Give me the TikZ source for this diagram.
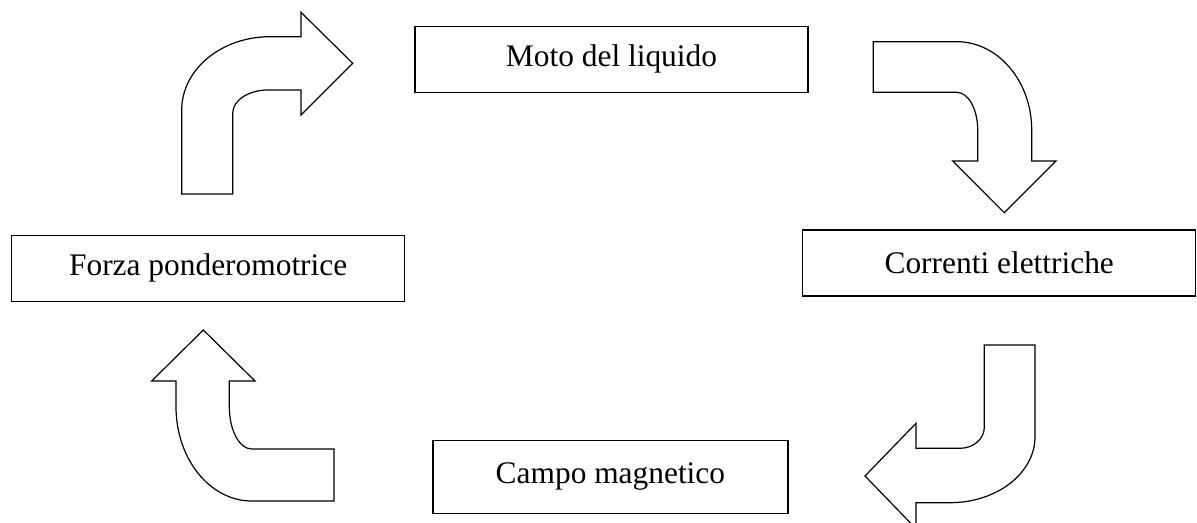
\documentclass[tikz,border=0pt]{standalone}
\usepackage{fontspec}
\setmainfont{Liberation Serif}
\usepackage{tikz}
\tikzstyle{stage} = [draw, line width=0.65pt, minimum width=196.5pt, minimum height=33pt, inner sep=0pt, font=\fontsize{15.7pt}{19pt}\selectfont]
\tikzstyle{bent} = [draw, line width=0.6pt, line join=miter, fill=white]

\begin{document}
\begin{tikzpicture}[x=0.5pt, y=-0.5pt]
\useasboundingbox (0,0) rectangle (1197,523);
\node[stage] (moto) at (611.5,59.2) {Moto del liquido};
\node[stage] (correnti) at (999.2,263) {Correnti elettriche};
\node[stage, minimum width=177.5pt, minimum height=36.5pt] (campo) at (610.4,476.7) {Campo magnetico};
\node[stage] (forza) at (208.2,268.3) {Forza ponderomotrice};
\draw[bent] (181.7,194) -- (181.7,110)
    .. controls (181.7,69.5) and (221.3,36.7) .. (270,36.7)
    -- (301,36.7) -- (301,12.3) -- (352.7,63.3) -- (301,115) -- (301,90) -- (268,90)
    .. controls (248.5,90) and (232.7,100.4) .. (232.7,113.3)
    -- (232.7,194) -- cycle;
\draw[bent] (873.3,41.7) -- (956.7,41.7)
    .. controls (998.1,41.7) and (1031.7,81.3) .. (1031.7,130)
    -- (1031.7,161) -- (1056,161) -- (1004.3,212.7) -- (952.7,161) -- (977.7,161) -- (977.7,130)
    .. controls (977.7,109.2) and (968.3,92.3) .. (956.7,92.3)
    -- (873.3,92.3) -- cycle;
\draw[bent] (984.3,345) -- (1035,345) -- (1035,436.7)
    .. controls (1035,473.1) and (996.9,502.7) .. (950,502.7)
    -- (916,502.7) -- (916,528.7) -- (865,476) -- (916,423.3) -- (916,448.3) -- (960,448.3)
    .. controls (973.4,448.3) and (984.3,438.9) .. (984.3,427.3)
    -- cycle;
\draw[bent] (334,449) -- (334,501) -- (251.7,501)
    .. controls (209.9,501) and (176,458.8) .. (176,406.7)
    -- (176,381) -- (151.7,381) -- (203.3,330) -- (255,381) -- (229.3,381) -- (229.3,406.7)
    .. controls (229.3,430.1) and (239.3,449) .. (251.7,449)
    -- cycle;
\end{tikzpicture}
\end{document}
